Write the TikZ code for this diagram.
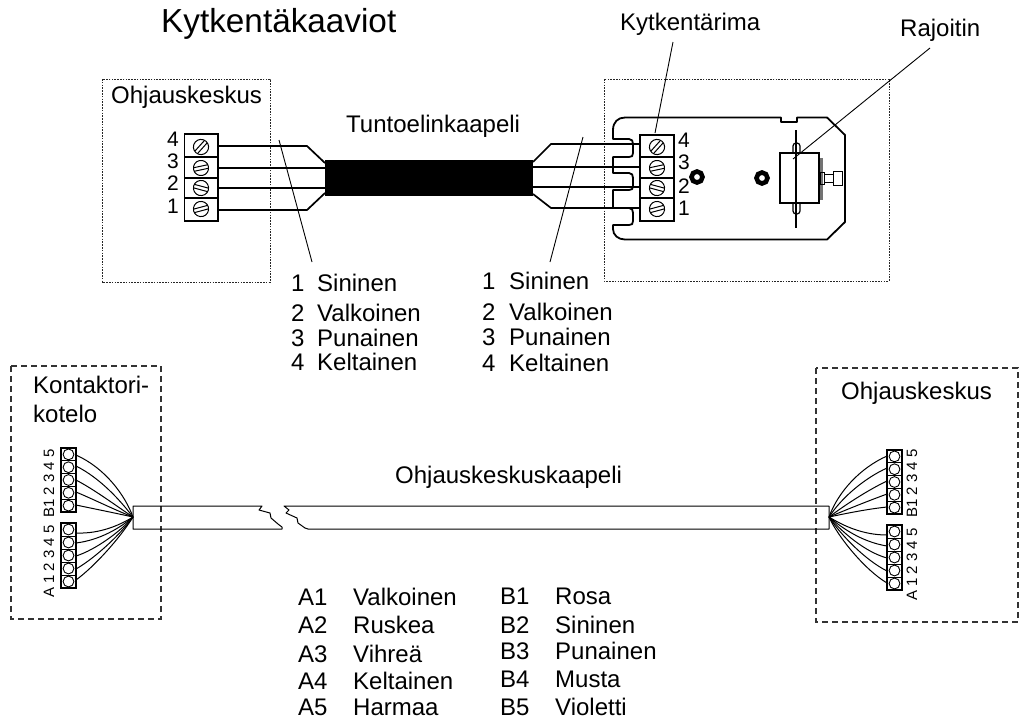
\documentclass[tikz,border=0pt]{standalone}
\usepackage{fontspec}
\setmainfont{Liberation Sans}
\tikzset{
  lbl/.style={anchor=base west,inner sep=0pt,font=\fontsize{24}{24}\selectfont},
  titlelbl/.style={anchor=base west,inner sep=0pt,font=\fontsize{33.3}{34}\selectfont},
  numlbl/.style={anchor=base west,inner sep=0pt,font=\fontsize{21}{21}\selectfont},
  pinlbl/.style={rotate=90,anchor=base west,inner sep=0pt,font=\fontsize{15}{15}\selectfont},
  dotbox/.style={line width=0.9pt,dash pattern=on 1.6pt off 1.2pt,draw=black!85},
  dashbox/.style={line width=1.2pt,dash pattern=on 6pt off 4pt,draw=black!80},
  leader/.style={line width=0.9pt},
  wire/.style={line width=1.7pt},
  thickwire/.style={line width=2.4pt},
  housing/.style={line width=1.8pt,line join=round},
  thinwire/.style={line width=1pt},
  blockline/.style={line width=1.2pt},
  cableline/.style={line width=1pt,line join=round},
}
% screw: x, y, slot angle
\newcommand{\screw}[3]{%
  \begin{scope}[shift={(#1,#2)},rotate=#3]
    \draw[line width=1pt,fill=white] (0,0) circle (7.6);
    \draw[line width=1pt] (-7.2,-1.8) -- (7.2,-1.8) (-7.2,1.8) -- (7.2,1.8);
  \end{scope}}
% terminal block with 5 cells
\newcommand{\pinblock}[5]{% prefix, x0, x1, ytop, ybottom
  \draw[blockline] (#2,#4) rectangle (#3,#5);
  \foreach \k in {1,...,5}{
    \pgfmathsetmacro{\yy}{#4+(#5-#4)*(\k-0.5)/5}
    \pgfmathsetmacro{\yl}{#4+(#5-#4)*\k/5}
    \draw[line width=0.9pt] ({(#2+#3)/2},\yy) circle (5.4);
    \ifnum\k<5 \draw[line width=1pt] (#2,\yl) -- (#3,\yl);\fi
  }}
\begin{document}
\begin{tikzpicture}[x=1pt,y=-1pt]
\useasboundingbox (0,0) rectangle (1022,724);
% --- texts
\node[titlelbl] (title) at (161,32) {Kytkentäkaaviot};
\node[lbl] (okL) at (111,103) {Ohjauskeskus};
\node[lbl] (tunto) at (346,132) {Tuntoelinkaapeli};
\node[lbl] (kyt) at (620,30) {Kytkentärima};
\node[lbl] (raj) at (900,36) {Rajoitin};
\foreach \n/\t/\y in {1/Sininen/291,2/Valkoinen/321,3/Punainen/346,4/Keltainen/370}{
  \node[lbl] at (291,\y) {\n};
  \node[lbl] at (317,\y) {\t};
}
\foreach \n/\t/\y in {1/Sininen/289,2/Valkoinen/320,3/Punainen/345,4/Keltainen/371}{
  \node[lbl] at (482,\y) {\n};
  \node[lbl] at (509,\y) {\t};
}
\node[lbl] (kont1) at (33,393) {Kontaktori-};
\node[lbl] (kont2) at (33,422) {kotelo};
\node[lbl] (okR) at (841,399) {Ohjauskeskus};
\node[lbl] (okk) at (395,483) {Ohjauskeskuskaapeli};
\foreach \a/\t/\y in {A1/Valkoinen/605,A2/Ruskea/633,A3/Vihreä/662,A4/Keltainen/689,A5/Harmaa/715}{
  \node[lbl] at (298,\y) {\a};
  \node[lbl] at (353,\y) {\t};
}
\foreach \a/\t/\y in {B1/Rosa/604,B2/Sininen/633,B3/Punainen/659,B4/Musta/687,B5/Violetti/715}{
  \node[lbl] at (500,\y) {\a};
  \node[lbl] at (555,\y) {\t};
}
% --- boxes
\draw[dotbox] (102,79) rectangle (270,282);
\draw[dotbox] (604,79) rectangle (889,281);
\draw[dashbox] (11,366) rectangle (161,619);
\draw[dashbox] (816,368) rectangle (1018,622);
% --- upper cable
\fill (325,160) rectangle (533,196);
\draw[wire] (218,146) -- (307,146) -- (325,163);
\draw[wire] (218,210) -- (307,210) -- (325,193);
\draw[thickwire] (218,168) -- (325,168);
\draw[thickwire] (218,188) -- (325,188);
\draw[wire] (640,144) -- (551,144) -- (533,162);
\draw[wire] (640,208) -- (551,208) -- (533,194);
\draw[thickwire] (640,167) -- (533,167);
\draw[thickwire] (640,187) -- (533,187);
% --- housing
\draw[housing,fill=none] (625,117.5)
  .. controls (618,117.5) and (613,122) .. (613,130) -- (613,139) -- (629,139)
  .. controls (632,139) and (633,141) .. (633,144) -- (633,153)
  .. controls (633,156) and (632,157) .. (629,157) -- (613,157) -- (613,173) -- (629,173)
  .. controls (632,173) and (633,175) .. (633,178) -- (633,186)
  .. controls (633,189) and (632,190) .. (629,190) -- (613,190) -- (613,208) -- (629,208)
  .. controls (632,208) and (633,210) .. (633,213) -- (633,221)
  .. controls (633,224) and (632,225) .. (629,225) -- (613,225) -- (613,229)
  .. controls (613,235) and (618,239.5) .. (625,239.5)
  -- (827,239.5) -- (845,222) -- (845,135) -- (827,117.5) -- (797,117.5) -- (797,122) -- (781,122) -- (781,117.5) -- cycle;
% --- terminal blocks
\foreach \xa/\xb/\xs/\ytop/\ybot in {184.7/218/201/134/221,640/674/657/135/221}{
  \fill[white] (\xa,\ytop) rectangle (\xb,\ybot);
  \draw[line width=1.3pt] (\xa,\ytop) rectangle (\xb,\ybot);
  \foreach \yl in {157,178,198}{\draw[line width=2.4pt] (\xa,\yl) -- (\xb,\yl);}
  \screw{\xs}{147}{48}
  \screw{\xs}{168}{12}
  \screw{\xs}{188}{-15}
  \screw{\xs}{209}{15}
}
\node[numlbl] (l4) at (167,146) {4};
\node[numlbl] (l3) at (167,168) {3};
\node[numlbl] (l2) at (167,190) {2};
\node[numlbl] (l1) at (167,213) {1};
\node[numlbl] (r4) at (678,147) {4};
\node[numlbl] (r3) at (678,169) {3};
\node[numlbl] (r2) at (678,193) {2};
\node[numlbl] (r1) at (678,215) {1};
% --- holes
\draw[line width=4.6pt] (697,177) circle (5.5);
\draw[line width=4.6pt] (762,178) circle (5.5);
% --- limiter
\draw[line width=1.2pt,rounded corners=3pt] (793,155) -- (793,143) -- (800,143) -- (800,155);
\draw[line width=1.2pt,rounded corners=3pt] (793,203) -- (793,214) -- (800,214) -- (800,203);
\fill[black!55] (819,158) rectangle (822.5,200);
\draw[line width=1.2pt,fill=white] (780,153) rectangle (819,203);
\draw[line width=1.3pt] (779.5,158) -- (779.5,198);
\draw[line width=0.9pt] (820,172) rectangle (824,184);
\draw[line width=0.9pt] (824,174) rectangle (833,182);
\draw[line width=1pt] (833,171) rectangle (842,185);
\draw[line width=2.2pt] (796,130) -- (796,228);
% --- leaders
\draw[leader] (279,140) -- (312,262);
\draw[leader] (583,137) -- (550,262);
\draw[leader] (673,42) -- (655,133);
\draw[leader] (930,48) -- (793,159);
% --- lower cable
\coordinate (fanL) at (133,517);
\coordinate (fanR) at (829,517);
\draw[cableline] (262,506) -- (133,506) -- (133,529) -- (282,529) -- (282,527) -- (278,524) -- (271,518) -- (270,513) -- (259,510) -- cycle;
\draw[cableline] (829,506) -- (284,506) -- (289,510) -- (286,513) -- (297,518) -- (298,523) -- (305,528) -- (308,529) -- (829,529) -- cycle;
% --- pin blocks
\pinblock{BL}{61}{76}{448}{512}
\pinblock{AL}{61}{76}{523}{588}
\pinblock{BR}{887}{902}{450}{514}
\pinblock{AR}{887}{902}{525}{590}
\node[pinlbl] (pBL) at (54,518) {B1 2 3 4 5};
\node[pinlbl] (pAL) at (54,598) {A 1 2 3 4 5};
\node[pinlbl] (pBR) at (917,518) {B1 2 3 4 5};
\node[pinlbl] (pAR) at (917,601) {A 1 2 3 4 5};
% --- fans
\draw[thinwire] (76,455) .. controls (105,468) and (125,495) .. (fanL);
\draw[thinwire] (76,466) .. controls (100,478) and (120,500) .. (fanL);
\draw[thinwire] (76,480) .. controls (95,490) and (115,505) .. (fanL);
\draw[thinwire] (76,492) .. controls (95,500) and (115,510) .. (fanL);
\draw[thinwire] (76,505) .. controls (95,509) and (115,513) .. (fanL);
\draw[thinwire] (76,533) .. controls (100,534) and (120,525) .. (fanL);
\draw[thinwire] (76,543) .. controls (100,540) and (120,528) .. (fanL);
\draw[thinwire] (76,556) .. controls (95,550) and (120,532) .. (fanL);
\draw[thinwire] (76,569) .. controls (95,558) and (120,535) .. (fanL);
\draw[thinwire] (76,580) .. controls (95,566) and (120,538) .. (fanL);
\draw[thinwire] (887,456) .. controls (860,468) and (838,492) .. (fanR);
\draw[thinwire] (887,468) .. controls (865,478) and (842,497) .. (fanR);
\draw[thinwire] (887,481) .. controls (868,490) and (845,505) .. (fanR);
\draw[thinwire] (887,494) .. controls (868,501) and (848,509) .. (fanR);
\draw[thinwire] (887,507) .. controls (868,509) and (848,513) .. (fanR);
\draw[thinwire] (887,535) .. controls (862,535) and (842,525) .. (fanR);
\draw[thinwire] (887,546) .. controls (862,542) and (842,528) .. (fanR);
\draw[thinwire] (887,558) .. controls (865,552) and (842,532) .. (fanR);
\draw[thinwire] (887,571) .. controls (865,560) and (840,534) .. (fanR);
\draw[thinwire] (887,583) .. controls (865,570) and (838,537) .. (fanR);
\end{tikzpicture}
\end{document}
